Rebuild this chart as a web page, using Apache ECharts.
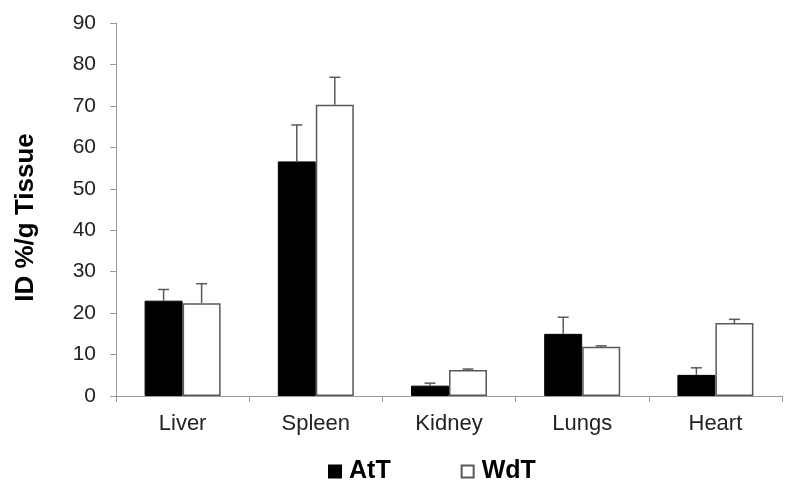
<!DOCTYPE html>
<html>
<head>
<meta charset="utf-8">
<script src="https://cdn.jsdelivr.net/npm/echarts@6/dist/echarts.min.js"></script>
<style>
  html, body { margin: 0; padding: 0; background: #fff; }
  #chart { width: 800px; height: 493px; }
</style>
</head>
<body>
<div id="chart"></div>
<script>
// organ categories
const categories = ['Liver', 'Spleen', 'Kidney', 'Lungs', 'Heart'];

// mean values, ID %/g tissue
const attValues = [23.0, 56.6, 2.5, 15.0, 5.1];
const wdtValues = [22.4, 70.3, 6.3, 11.9, 17.6];

// upper error (SD)
const attErrors = [2.7, 8.8, 0.6, 4.0, 1.7];
const wdtErrors = [4.7, 6.6, 0.2, 0.2, 0.9];

const BAR_W = 38;

const chart = echarts.init(document.getElementById('chart'));

// error bars drawn on top of bars, shifted to each bar's center
function errorSeries(name, values, errors, shift) {
  return {
    name: name + ' err',
    type: 'custom',
    z: 10,
    silent: true,
    data: values.map((v, i) => [i, v, v + errors[i]]),
    renderItem: (params, api) => {
      const low = api.coord([api.value(0), api.value(1)]);
      const high = api.coord([api.value(0), api.value(2)]);
      const x = low[0] + shift;
      const style = { stroke: '#595959', lineWidth: 1.5 };
      return {
        type: 'group',
        children: [
          { type: 'line', shape: { x1: x, y1: low[1], x2: x, y2: high[1] }, style },
          { type: 'line', shape: { x1: x - 5.5, y1: high[1], x2: x + 5.5, y2: high[1] }, style }
        ]
      };
    }
  };
}

chart.setOption({
  animation: false,
  textStyle: { fontFamily: 'Liberation Sans, Arial, sans-serif' },
  grid: { left: 116, right: 18, top: 23, bottom: 97 },
  legend: {
    data: ['AtT', 'WdT'],
    left: 323,
    top: 454,
    icon: 'rect',
    itemWidth: 12,
    itemHeight: 12,
    itemGap: 70,
    textStyle: { fontSize: 25, fontWeight: 'bold', color: '#000', padding: [0, 0, 0, 3] }
  },
  xAxis: {
    type: 'category',
    data: categories,
    axisLine: { lineStyle: { color: '#9a9a9a', width: 1 } },
    axisTick: { show: true, length: 6, alignWithLabel: false, lineStyle: { color: '#9a9a9a' } },
    axisLabel: { color: '#222', fontSize: 22, margin: 17 }
  },
  yAxis: {
    type: 'value',
    min: 0,
    max: 90,
    interval: 10,
    name: 'ID %/g Tissue',
    nameLocation: 'middle',
    nameGap: 77,
    nameTextStyle: { fontSize: 26, fontWeight: 'bold', color: '#000', padding: [0, 16, 0, 0] },
    axisLine: { show: true, lineStyle: { color: '#9a9a9a', width: 1 } },
    axisTick: { show: true, length: 6, lineStyle: { color: '#9a9a9a' } },
    axisLabel: { color: '#222', fontSize: 21, margin: 20 },
    splitLine: { show: false }
  },
  series: [
    {
      name: 'AtT',
      type: 'bar',
      data: attValues,
      barWidth: BAR_W,
      barGap: '0%',
      itemStyle: { color: '#000', borderColor: '#000', borderWidth: 1 }
    },
    {
      name: 'WdT',
      type: 'bar',
      data: wdtValues,
      barWidth: BAR_W,
      barGap: '0%',
      itemStyle: { color: '#fff', borderColor: '#595959', borderWidth: 1.5 }
    },
    errorSeries('AtT', attValues, attErrors, -BAR_W / 2),
    errorSeries('WdT', wdtValues, wdtErrors, BAR_W / 2)
  ]
});

window.addEventListener('resize', () => chart.resize());
</script>
</body>
</html>
